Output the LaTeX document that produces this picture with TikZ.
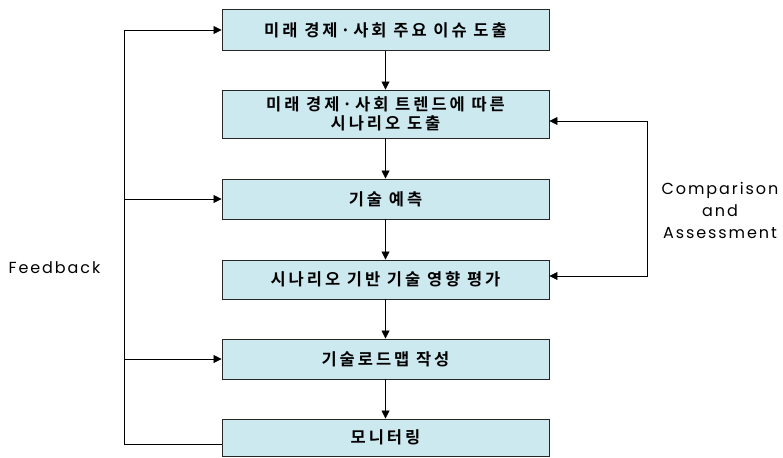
\documentclass[tikz,border=0pt]{standalone}
\usepackage{fontspec}
\setmainfont{Poppins}
\newfontfamily\kr{Noto Sans CJK KR}[BoldFont={* Bold}, LetterSpace=18]
\newfontfamily\en{Poppins}[LetterSpace=12]
\usetikzlibrary{arrows.meta}
\definecolor{boxfill}{HTML}{CDE9F0}
\tikzset{
  stepbox/.style={draw=black!85, line width=0.9pt, fill=boxfill, minimum width=327pt, inner sep=0pt, align=center, font=\kr\bfseries\fontsize{16.5}{19}\selectfont},
  arr/.style={-{Triangle[width=8pt,length=8pt]}, line width=0.8pt},
  link/.style={line width=0.8pt},
  lbl/.style={font=\en\fontsize{16}{22}\selectfont, align=center}
}
\begin{document}
\begin{tikzpicture}[x=1pt,y=-1pt]
\useasboundingbox (0,0) rectangle (783,457);
\node[stepbox, minimum height=41pt] (b1) at (385.5,30) {미래 경제·사회 주요 이슈 도출};
\node[stepbox, minimum height=48pt] (b2) at (385.5,114) {미래 경제·사회 트렌드에 따른\\시나리오 도출};
\node[stepbox, minimum height=40pt] (b3) at (385.5,199) {기술 예측};
\node[stepbox, minimum height=39pt] (b4) at (385.5,279.5) {시나리오 기반 기술 영향 평가};
\node[stepbox, minimum height=40pt] (b5) at (385.5,359) {기술로드맵 작성};
\node[stepbox, minimum height=37pt] (b6) at (385.5,437.5) {모니터링};
\draw[arr] (b1) -- (b2);
\draw[arr] (b2) -- (b3);
\draw[arr] (b3) -- (b4);
\draw[arr] (b4) -- (b5);
\draw[arr] (b5) -- (b6);
\coordinate (fb) at (124,444);
\draw[link] ([yshift=-6.5pt]b6.west) -- (fb);
\draw[arr] (fb) |- (b1.west);
\draw[arr] (fb |- b3.west) -- (b3.west);
\draw[arr] (fb |- b5.west) -- (b5.west);
\coordinate (ca) at (647,200);
\draw[arr,{Triangle[width=8pt,length=8pt]}-{Triangle[width=8pt,length=8pt]}] ([yshift=-7pt]b2.east) -| (ca) |- ([yshift=3.5pt]b4.east);
\node[lbl, anchor=west] (fbl) at (5,268) {Feedback};
\node[lbl] (cal) at (720,210) {Comparison\\and\\Assessment};
\end{tikzpicture}
\end{document}
